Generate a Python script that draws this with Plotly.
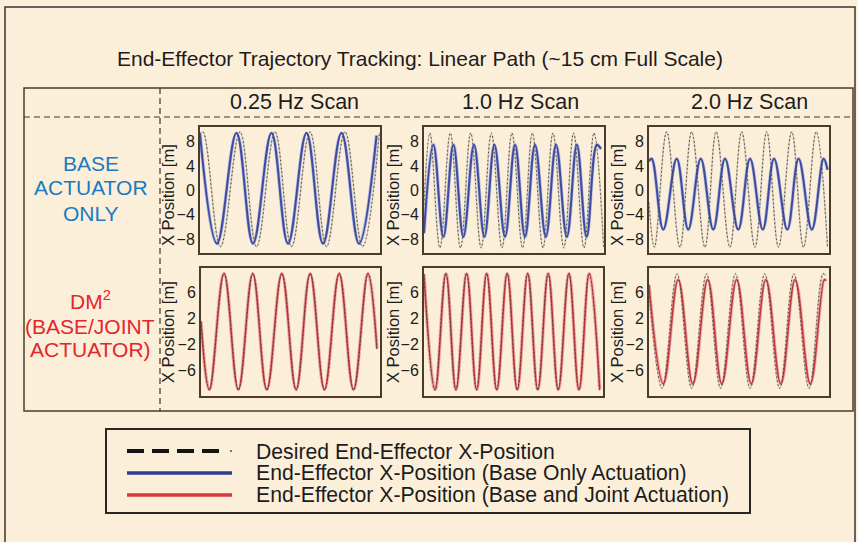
import plotly.graph_objects as go

W, H = 858, 542

# ---------------------------------------------------------------------------
# Trajectory data: turning points of each recorded trace, time [s] / X [m]
# ---------------------------------------------------------------------------
# 0.25 Hz scan, base actuator only
t_base_025 = [0.0, 1.94, 4.17, 6.06, 8.17, 10.06, 12.17, 14.06, 16.17, 18.17, 20.17]
x_base_025 = [9.3, -8.7, 9.4, -8.7, 9.4, -8.7, 9.4, -8.7, 9.4, -8.7, 9.0]
t_des_025a = [0.0, 0.34, 2.34, 4.57, 6.46, 8.57, 10.46, 12.57, 14.46, 16.57, 18.57, 20.5]
x_des_025a = [9.3, 9.6, -9.2, 9.6, -9.2, 9.6, -9.2, 9.6, -9.2, 9.6, -9.2, 9.5]

# 1.0 Hz scan, base actuator only
t_base_10 = [0.0, 0.46, 0.95, 1.44, 1.93, 2.45, 2.96, 3.45, 3.97, 4.46,
             4.95, 5.44, 5.97, 6.47, 7.0, 7.49, 7.97, 8.47, 8.67]
x_base_10 = [-7.0, 7.5, -7.6, 7.5, -7.6, 7.5, -7.6, 7.5, -7.6, 7.5,
             -7.6, 7.5, -7.6, 7.5, -7.6, 7.5, -7.6, 7.5, 6.8]
t_des_10a = [0.0, 0.29, 0.78, 1.29, 1.79, 2.29, 2.80, 3.30, 3.82, 4.31,
             4.83, 5.31, 5.83, 6.32, 6.85, 7.33, 7.84, 8.33, 8.8]
x_des_10a = [-2.3, 9.4, -9.4, 9.4, -9.4, 9.4, -9.4, 9.4, -9.4, 9.4,
             -9.4, 9.4, -9.4, 9.4, -9.4, 9.4, -9.4, 9.4, -9.2]

# 2.0 Hz scan, base actuator only
t_base_20 = [0.0, 0.055, 0.29, 0.565, 0.80, 1.055, 1.31, 1.55, 1.82,
             2.06, 2.32, 2.55, 2.82, 3.05, 3.32, 3.56, 3.64]
x_base_20 = [4.8, 5.2, -6.4, 5.2, -6.4, 5.2, -6.4, 5.2, -6.4,
             5.2, -6.4, 5.2, -6.4, 5.2, -6.4, 5.2, 3.4]
t_des_20a = [0.0, 0.11, 0.36, 0.63, 0.87, 1.14, 1.37, 1.65, 1.89,
             2.16, 2.40, 2.64, 2.91, 3.15, 3.41, 3.64]
x_des_20a = [-2.0, -9.3, 9.6, -9.3, 9.6, -9.3, 9.6, -9.3, 9.6,
             -9.3, 9.6, -9.3, 9.6, -9.3, 9.6, -9.3]

# 0.25 Hz scan, DM^2 (base + joint actuation)
t_dm_025 = [0.0, 1.16, 3.20, 5.19, 7.20, 9.15, 11.24, 13.23, 15.18, 17.17, 19.22, 21.21, 23.22, 24.47]
x_dm_025 = [1.5, -9.0, 8.9, -9.0, 8.9, -9.0, 8.9, -9.0, 8.9, -9.0, 8.9, -9.0, 8.9, -2.6]
t_des_025b = [0.0, 1.18, 3.22, 5.21, 7.22, 9.17, 11.26, 13.25, 15.20, 17.19, 19.24, 21.23, 23.24, 24.47]
x_des_025b = [1.6, -9.1, 9.0, -9.1, 9.0, -9.1, 9.0, -9.1, 9.0, -9.1, 9.0, -9.1, 9.0, -2.8]

# 1.0 Hz scan, DM^2
t_dm_10 = [0.0, 0.54, 1.07, 1.56, 2.08, 2.57, 3.06, 3.55, 4.06, 4.55,
           5.06, 5.55, 6.06, 6.55, 7.07, 7.56, 8.06, 8.57]
x_dm_10 = [8.8, -9.0, 8.9, -9.0, 8.9, -9.0, 8.9, -9.0, 8.9, -9.0,
           8.9, -9.0, 8.9, -9.0, 8.9, -9.0, 8.9, -9.0]
t_des_10b = [0.0, 0.53, 1.06, 1.55, 2.07, 2.56, 3.05, 3.54, 4.05, 4.54,
             5.05, 5.54, 6.05, 6.54, 7.06, 7.55, 8.05, 8.56]
x_des_10b = [8.9, -9.1, 9.0, -9.1, 9.0, -9.1, 9.0, -9.1, 9.0, -9.1,
             9.0, -9.1, 9.0, -9.1, 9.0, -9.1, 9.0, -9.1]

# 2.0 Hz scan, DM^2
t_dm_20 = [0.0, 0.245, 0.50, 0.75, 1.005, 1.245, 1.50, 1.75, 2.0, 2.255, 2.5, 2.76, 3.0, 3.03]
x_dm_20 = [7.2, -8.1, 8.0, -8.1, 8.0, -8.1, 8.0, -8.1, 8.0, -8.1, 8.0, -8.1, 8.0, 7.8]
t_des_20b = [0.0, 0.225, 0.48, 0.73, 0.985, 1.225, 1.48, 1.73, 1.98, 2.235, 2.48, 2.74, 2.98, 3.03]
x_des_20b = [6.0, -8.8, 8.9, -8.8, 8.9, -8.8, 8.9, -8.8, 8.9, -8.8, 8.9, -8.8, 8.9, 8.6]

# Axis ticks and labels
ticks_top = [8, 4, 0, -4, -8]
ticks_bottom = [6, 2, -2, -6]
scan_labels = ["0.25 Hz Scan", "1.0 Hz Scan", "2.0 Hz Scan"]
row_top_label = ["BASE", "ACTUATOR", "ONLY"]
row_bottom_label = ["DM<sup>2</sup>", "(BASE/JOINT", "ACTUATOR)"]
y_title = "X Position [m]"
chart_title = "End-Effector Trajectory Tracking: Linear Path (~15 cm Full Scale)"
legend_labels = [
    "Desired End-Effector X-Position",
    "End-Effector X-Position (Base Only Actuation)",
    "End-Effector X-Position (Base and Joint Actuation)",
]

# ---------------------------------------------------------------------------
# Styling
# ---------------------------------------------------------------------------
BG = "#fcefd9"
FRAME = "#4a3b2b"
INK = "#1c1c1c"
BLUE = "#3f4c9e"
BLUE_HALO = "#b3badf"
RED = "#bf3a3a"
RED_HALO = "#eca9a5"
DES_HALO = "#cfc8b8"
DES_DOT = "#4a4540"
FONT = "Liberation Sans, Arial, sans-serif"


def px(x):
    return x / W


def py(y):
    return 1 - y / H


fig = go.Figure()

# panel boxes in page pixels: (left, right, top, bottom), time span, y range
panels = [
    (200, 380, 127, 253, 20.57, [-10.25, 10.4], ticks_top),
    (424, 604, 127, 253, 8.82, [-10.25, 10.4], ticks_top),
    (649, 829, 127, 253, 3.67, [-10.25, 10.4], ticks_top),
    (201, 380, 268, 396, 24.9, [-10.0, 9.8], ticks_bottom),
    (424, 603, 268, 396, 8.73, [-10.0, 9.8], ticks_bottom),
    (649, 829, 268, 396, 3.08, [-10.0, 9.8], ticks_bottom),
]

layout_axes = {}
for i, (l, r, t, b, span, yr, tv) in enumerate(panels, start=1):
    k = "" if i == 1 else str(i)
    layout_axes[f"xaxis{k}"] = dict(
        domain=[px(l), px(r)], range=[0, span], anchor=f"y{k}",
        showticklabels=False, showgrid=False, zeroline=False, ticks="",
        showline=True, mirror=True, linecolor=FRAME, linewidth=2,
    )
    layout_axes[f"yaxis{k}"] = dict(
        domain=[py(b), py(t)], range=yr, anchor=f"x{k}",
        tickvals=tv, ticks="", showgrid=False, zeroline=False,
        showline=True, mirror=True, linecolor=FRAME, linewidth=2,
        tickfont=dict(family=FONT, size=16, color=INK),
    )


def curve(t, x, idx, color, width, dash=None):
    k = "" if idx == 1 else str(idx)
    fig.add_trace(go.Scatter(
        x=t, y=x, xaxis=f"x{k}", yaxis=f"y{k}", mode="lines",
        line=dict(color=color, width=width, dash=dash, shape="spline", smoothing=1.1),
        hoverinfo="skip", showlegend=False,
    ))


top_row = [
    (t_base_025, x_base_025, t_des_025a, x_des_025a),
    (t_base_10, x_base_10, t_des_10a, x_des_10a),
    (t_base_20, x_base_20, t_des_20a, x_des_20a),
]
for j, (tb, xb, td, xd) in enumerate(top_row, start=1):
    curve(td, xd, j, DES_HALO, 1.6)
    curve(tb, xb, j, BLUE_HALO, 3.4)
    curve(tb, xb, j, BLUE, 2.0)
    curve(td, xd, j, DES_DOT, 1.0, "1.5px,2.5px")

bottom_row = [
    (t_dm_025, x_dm_025, t_des_025b, x_des_025b),
    (t_dm_10, x_dm_10, t_des_10b, x_des_10b),
    (t_dm_20, x_dm_20, t_des_20b, x_des_20b),
]
for j, (tr, xr, td, xd) in enumerate(bottom_row, start=4):
    curve(td, xd, j, DES_HALO, 1.6)
    curve(tr, xr, j, RED_HALO, 3.4)
    curve(tr, xr, j, RED, 1.5)
    curve(td, xd, j, DES_DOT, 1.0, "1.5px,2.5px")

# ---------------------------------------------------------------------------
# Frames, dividers and legend artwork
# ---------------------------------------------------------------------------
shapes = []


def rect(x0, y0, x1, y1, color, width):
    shapes.append(dict(type="rect", xref="paper", yref="paper",
                       x0=px(x0), x1=px(x1), y0=py(y0), y1=py(y1),
                       line=dict(color=color, width=width), fillcolor="rgba(0,0,0,0)"))


def seg(x0, y0, x1, y1, color, width, dash=None):
    shapes.append(dict(type="line", xref="paper", yref="paper",
                       x0=px(x0), x1=px(x1), y0=py(y0), y1=py(y1),
                       line=dict(color=color, width=width, dash=dash)))


rect(5, 7, 855, 560, "#3a3530", 1.5)          # page border
rect(24, 88, 853, 411, FRAME, 1.5)            # table box
seg(160, 88, 160, 411, "#3a3530", 1.2, "6px,4px")
seg(24, 117, 853, 117, "#3a3530", 1.2, "6px,4px")

rect(106, 429, 750, 513, "#2a2622", 2)        # legend box
seg(127, 451, 222, 451, "#141414", 4, "17px,8px")
seg(230, 451, 232, 451, "#777777", 2)
seg(127, 473, 232, 473, "#2e3d98", 3.5)
seg(127, 495, 232, 495, "#d9383a", 3.5)

# ---------------------------------------------------------------------------
# Text
# ---------------------------------------------------------------------------
ann = []


def text(s, x, y, size, color=INK, anchor="center", angle=0):
    ann.append(dict(text=s, xref="paper", yref="paper", x=px(x), y=py(y),
                    xanchor=anchor, yanchor="middle", showarrow=False, textangle=angle,
                    font=dict(family=FONT, size=size, color=color)))


text(chart_title, 420, 58, 21)
for lbl, cx in zip(scan_labels, [294, 520, 749]):
    text(lbl, cx, 102, 21.5)

for lbl, cy in zip(row_top_label, [163, 188, 213]):
    text(lbl, 91, cy, 21, "#1b7ac2")
for lbl, cy in zip(row_bottom_label, [300, 326, 349]):
    text(lbl, 90, cy, 21, "#e3262d")

for cx in [168, 393, 617]:
    text(y_title, cx, 195, 16.5, angle=-90)
    text(y_title, cx, 332, 16.5, angle=-90)

for lbl, cy in zip(legend_labels, [451, 473, 495]):
    text(lbl, 254, cy, 21.2, anchor="left")

fig.update_layout(
    width=W, height=H, autosize=False,
    margin=dict(l=0, r=0, t=0, b=0),
    paper_bgcolor=BG, plot_bgcolor=BG,
    showlegend=False,
    shapes=shapes, annotations=ann,
    **layout_axes,
)

fig.write_html("out.html", config={"displayModeBar": False})
